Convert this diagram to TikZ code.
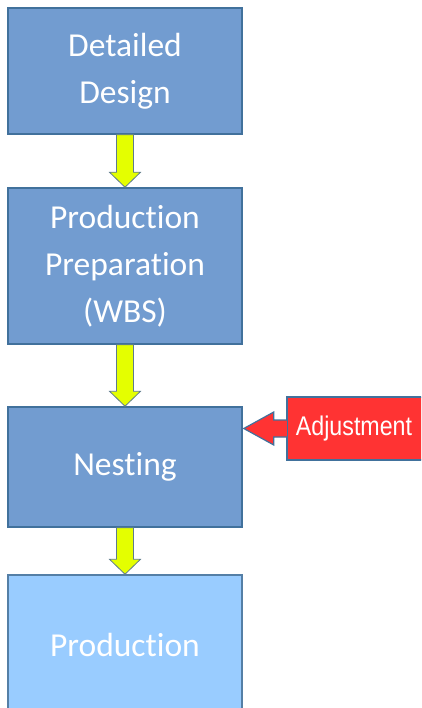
\documentclass[tikz,border=0pt]{standalone}
\usepackage{fontspec}
\setmainfont{Carlito}[Ligatures=NoCommon]
\newfontfamily\arialfont{Liberation Sans}
\usetikzlibrary{calc}
\definecolor{boxfill}{HTML}{729CD0}
\definecolor{boxline}{HTML}{41719C}
\definecolor{lightfill}{HTML}{99CCFF}
\definecolor{yel}{HTML}{E4FF00}
\definecolor{yelline}{HTML}{5E7B8E}
\definecolor{redfill}{HTML}{FF3333}
\begin{document}
\begin{tikzpicture}[x=1pt,y=-1pt,
  stepbox/.style={draw=boxline,line width=1.5pt,fill=boxfill,minimum width=234pt,
    text=white,align=center,inner sep=0pt,
    font=\fontsize{33.5}{47}\selectfont},
  yarrow/.style={draw=yelline,line width=0.8pt,fill=yel,line join=miter},
  radj/.style={draw=boxline,line width=1.2pt,fill=redfill,line join=miter}]
\useasboundingbox (0,0) rectangle (421,708);
\clip (0,0) rectangle (421,708);
\node[stepbox,minimum height=126pt] (d1) at (125,71) {Detailed\\Design};
\node[stepbox,minimum height=156pt] (d2) at (125,266) {Production\\Preparation\\(WBS)};
\node[stepbox,minimum height=120pt] (d3) at (125,467) {Nesting};
\node[stepbox,fill=lightfill,draw=boxline!90,minimum height=140pt] (d4) at (125,645) {Production};
% yellow block arrows
\foreach \a/\b in {d1/d2,d2/d3,d3/d4}{
  \draw[yarrow] ($(\a.south)+(-8.5,0)$) -- ($(\b.north)+(-8.5,-15)$) -- ($(\b.north)+(-15.5,-15)$)
    -- (\b.north) -- ($(\b.north)+(15.5,-15)$) -- ($(\b.north)+(8.5,-15)$) -- ($(\a.south)+(8.5,0)$) -- cycle;
}
% adjustment callout
\node[radj,minimum width=142pt,minimum height=63pt,inner sep=0pt] (adj) at (358,428.5) {};
\node[text=white,font=\arialfont\fontsize{27}{30}\selectfont,inner sep=0pt] (adjt) at (354,429) {\scalebox{0.86}[1]{Adjustment}};
\coordinate (tip) at ($(d3.east |- adj.west)+(1,0)$);
\draw[radj] ($(adj.west)+(0,-8.5)$) -- ($(tip)+(30,-8.5)$) -- ($(tip)+(30,-16.5)$) -- (tip)
  -- ($(tip)+(30,16.5)$) -- ($(tip)+(30,8.5)$) -- ($(adj.west)+(0,8.5)$);
\fill[redfill] ($(adj.west)+(-1,-7.9)$) rectangle ($(adj.west)+(0.8,7.9)$);
\end{tikzpicture}
\end{document}
